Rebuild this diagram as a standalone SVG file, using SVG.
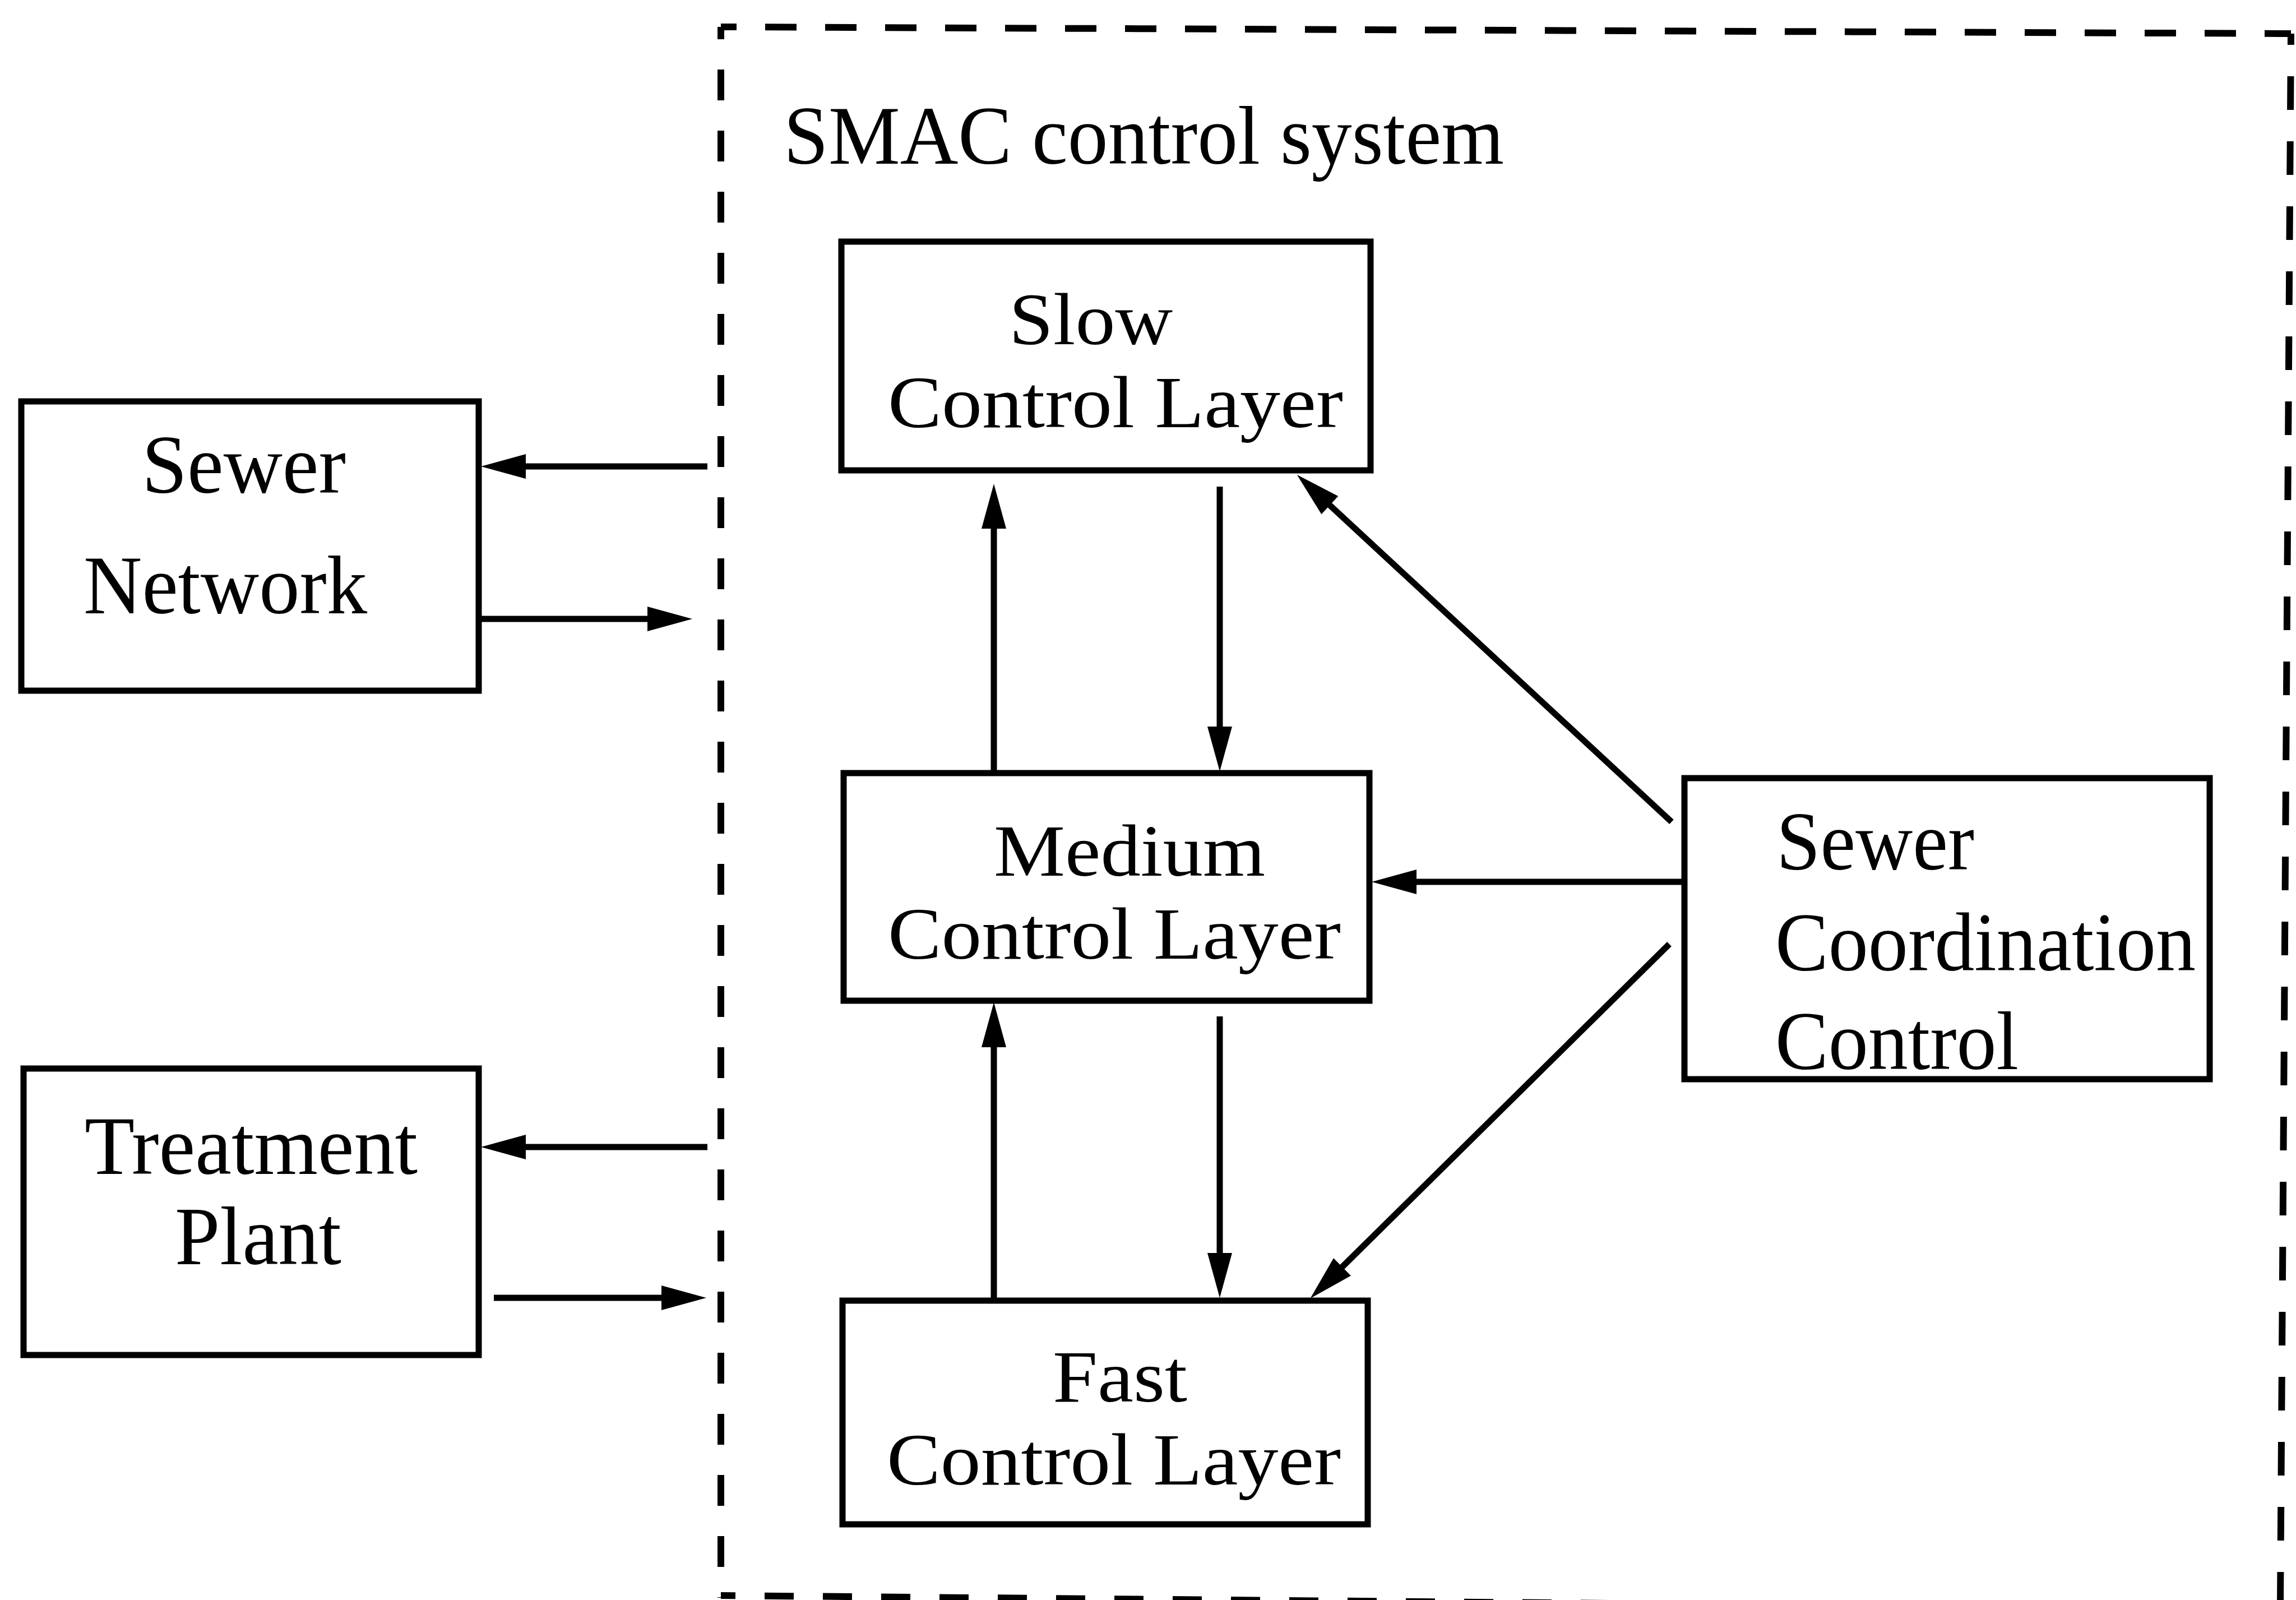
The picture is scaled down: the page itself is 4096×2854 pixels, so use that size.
<svg xmlns="http://www.w3.org/2000/svg" width="4096" height="2854" viewBox="0 0 4096 2854">
  <style>
    .box { fill: #ffffff; stroke: #000000; stroke-width: 11; }
    .lbl { font-family: "Liberation Serif", "Times New Roman", serif; font-size: 148px; fill: #000000; }
    .layer { font-size: 132px; }
    .conn { stroke: #000000; stroke-width: 11; fill: none; marker-end: url(#ah); }
    .frame { stroke: #000000; stroke-width: 12; fill: none; }
  </style>
  <defs>
    <marker id="ah" markerUnits="userSpaceOnUse" markerWidth="100" markerHeight="60" refX="0" refY="0" viewBox="-45 -30 90 60" orient="auto" overflow="visible">
      <path d="M40,0 L-40,-22 L-40,22 Z" fill="#000000"/>
    </marker>
  </defs>
  <rect width="4096" height="2854" fill="#ffffff"/>

  <!-- dashed boundary of the SMAC control system -->
  <g id="smac-system">
    <path class="frame" d="M1286,48 L4087,60" stroke-dasharray="56 51" stroke-dashoffset="28"/>
    <path class="frame" d="M1286,48 L1286,2850" stroke-dasharray="55 54" stroke-dashoffset="33"/>
    <path class="frame" d="M4087,60 L4068,2860" stroke-dasharray="60 56" stroke-dashoffset="40"/>
    <path class="frame" d="M1286,2846 L3100,2862" stroke-dasharray="52 52" stroke-dashoffset="26"/>
    <text class="lbl" x="1398" y="292" textLength="1285" lengthAdjust="spacingAndGlyphs">SMAC control system</text>
  </g>

  <g id="sewer-network">
    <rect class="box" x="38" y="716" width="816" height="516"/>
    <text class="lbl"><tspan x="253" y="879" textLength="364" lengthAdjust="spacingAndGlyphs">Sewer</tspan><tspan x="149" y="1094" textLength="506" lengthAdjust="spacingAndGlyphs">Network</tspan></text>
  </g>

  <g id="treatment-plant">
    <rect class="box" x="42" y="1906" width="812" height="511"/>
    <text class="lbl"><tspan x="151" y="2094" textLength="594" lengthAdjust="spacingAndGlyphs">Treatment</tspan><tspan x="312" y="2255" textLength="297" lengthAdjust="spacingAndGlyphs">Plant</tspan></text>
  </g>

  <g id="slow-layer">
    <rect class="box" x="1501" y="431" width="944" height="408"/>
    <text class="lbl layer"><tspan x="1800" y="614" textLength="292" lengthAdjust="spacingAndGlyphs">Slow</tspan><tspan x="1584" y="762" textLength="812" lengthAdjust="spacingAndGlyphs">Control Layer</tspan></text>
  </g>

  <g id="medium-layer">
    <rect class="box" x="1505" y="1379" width="938" height="406"/>
    <text class="lbl layer"><tspan x="1773" y="1562" textLength="484" lengthAdjust="spacingAndGlyphs">Medium</tspan><tspan x="1584" y="1710" textLength="808" lengthAdjust="spacingAndGlyphs">Control Layer</tspan></text>
  </g>

  <g id="fast-layer">
    <rect class="box" x="1503" y="2320" width="937" height="399"/>
    <text class="lbl layer"><tspan x="1878" y="2500" textLength="240" lengthAdjust="spacingAndGlyphs">Fast</tspan><tspan x="1582" y="2648" textLength="810" lengthAdjust="spacingAndGlyphs">Control Layer</tspan></text>
  </g>

  <g id="coordination">
    <rect class="box" x="3005" y="1388" width="937" height="537"/>
    <text class="lbl"><tspan x="3169" y="1551" textLength="353" lengthAdjust="spacingAndGlyphs">Sewer</tspan><tspan x="3167" y="1731" textLength="750" lengthAdjust="spacingAndGlyphs">Coordination</tspan><tspan x="3167" y="1907" textLength="434" lengthAdjust="spacingAndGlyphs">Control</tspan></text>
  </g>

  <g id="connectors">
    <line class="conn" x1="1262" y1="832" x2="898" y2="832"/>
    <line class="conn" x1="854" y1="1104" x2="1195" y2="1104"/>
    <line class="conn" x1="1262" y1="2046" x2="898" y2="2046"/>
    <line class="conn" x1="881" y1="2315" x2="1220" y2="2315"/>
    <line class="conn" x1="1773" y1="1379" x2="1773" y2="903"/>
    <line class="conn" x1="2176" y1="868" x2="2176" y2="1336"/>
    <line class="conn" x1="1773" y1="2320" x2="1773" y2="1828"/>
    <line class="conn" x1="2176" y1="1813" x2="2176" y2="2275"/>
    <line class="conn" x1="2982" y1="1466" x2="2343" y2="874"/>
    <line class="conn" x1="3005" y1="1573" x2="2487" y2="1573"/>
    <line class="conn" x1="2978" y1="1684" x2="2366" y2="2288"/>
  </g>
</svg>
